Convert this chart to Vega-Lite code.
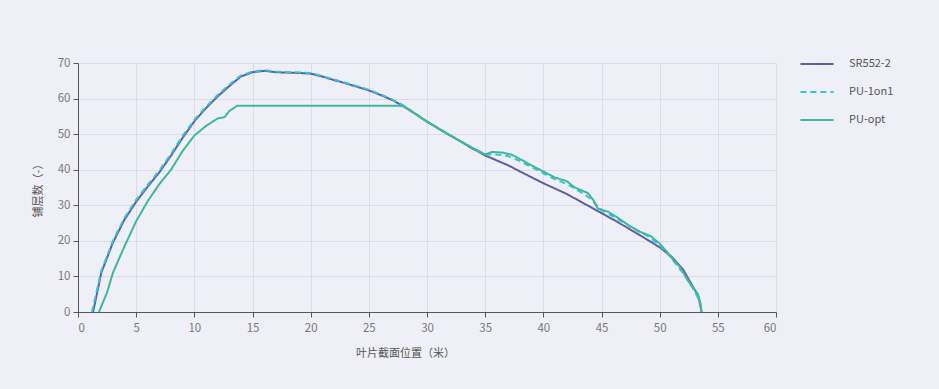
{
  "$schema": "https://vega.github.io/schema/vega-lite/v6.json",
  "autosize": {"type": "none"},
  "width": 698,
  "height": 249,
  "padding": {"left": 78, "top": 63, "right": 163, "bottom": 77},
  "background": "#efeff7",
  "config": {
    "view": {"stroke": null},
    "font": "Noto Sans CJK SC",
    "axis": {
      "gridColor": "#dcdce6",
      "gridWidth": 1,
      "domainColor": "#555555",
      "tickColor": "#555555",
      "labelColor": "#777777",
      "labelFont": "Noto Sans CJK SC",
      "labelFontSize": 11.5,
      "titleColor": "#555555",
      "titleFont": "Noto Sans CJK SC",
      "titleFontSize": 11,
      "titleFontWeight": "normal"
    }
  },
  "data": {
    "values": [
      {"series": "SR552-2", "x": 1.3, "y": 0},
      {"series": "SR552-2", "x": 2, "y": 11},
      {"series": "SR552-2", "x": 3, "y": 19.5},
      {"series": "SR552-2", "x": 4, "y": 26},
      {"series": "SR552-2", "x": 5, "y": 31},
      {"series": "SR552-2", "x": 6, "y": 35.3},
      {"series": "SR552-2", "x": 7, "y": 39.3},
      {"series": "SR552-2", "x": 8, "y": 44},
      {"series": "SR552-2", "x": 9, "y": 49},
      {"series": "SR552-2", "x": 10, "y": 53.6},
      {"series": "SR552-2", "x": 11, "y": 57.3},
      {"series": "SR552-2", "x": 12, "y": 60.6},
      {"series": "SR552-2", "x": 13, "y": 63.5},
      {"series": "SR552-2", "x": 14, "y": 66.2},
      {"series": "SR552-2", "x": 15, "y": 67.4},
      {"series": "SR552-2", "x": 16, "y": 67.8},
      {"series": "SR552-2", "x": 17, "y": 67.4},
      {"series": "SR552-2", "x": 18, "y": 67.3},
      {"series": "SR552-2", "x": 19, "y": 67.2},
      {"series": "SR552-2", "x": 20, "y": 67},
      {"series": "SR552-2", "x": 21, "y": 66.2},
      {"series": "SR552-2", "x": 22, "y": 65.2},
      {"series": "SR552-2", "x": 23, "y": 64.3},
      {"series": "SR552-2", "x": 24, "y": 63.3},
      {"series": "SR552-2", "x": 25, "y": 62.3},
      {"series": "SR552-2", "x": 26, "y": 61},
      {"series": "SR552-2", "x": 27, "y": 59.6},
      {"series": "SR552-2", "x": 28, "y": 57.8},
      {"series": "SR552-2", "x": 29, "y": 55.7},
      {"series": "SR552-2", "x": 30, "y": 53.5},
      {"series": "SR552-2", "x": 32, "y": 49.6},
      {"series": "SR552-2", "x": 34, "y": 45.8},
      {"series": "SR552-2", "x": 35, "y": 44},
      {"series": "SR552-2", "x": 36, "y": 42.6},
      {"series": "SR552-2", "x": 37, "y": 41.2},
      {"series": "SR552-2", "x": 38, "y": 39.5},
      {"series": "SR552-2", "x": 40, "y": 36.2},
      {"series": "SR552-2", "x": 42, "y": 33.2},
      {"series": "SR552-2", "x": 44, "y": 29.6},
      {"series": "SR552-2", "x": 45, "y": 27.8},
      {"series": "SR552-2", "x": 46, "y": 26},
      {"series": "SR552-2", "x": 48, "y": 22.2},
      {"series": "SR552-2", "x": 50, "y": 18.2},
      {"series": "SR552-2", "x": 51, "y": 15.6},
      {"series": "SR552-2", "x": 52, "y": 12},
      {"series": "SR552-2", "x": 53, "y": 6.3},
      {"series": "SR552-2", "x": 53.3, "y": 4.5},
      {"series": "SR552-2", "x": 53.5, "y": 2},
      {"series": "SR552-2", "x": 53.6, "y": 0},

      {"series": "PU-1on1", "x": 1.2, "y": 0},
      {"series": "PU-1on1", "x": 2, "y": 11.5},
      {"series": "PU-1on1", "x": 3, "y": 20},
      {"series": "PU-1on1", "x": 4, "y": 26.5},
      {"series": "PU-1on1", "x": 5, "y": 31.5},
      {"series": "PU-1on1", "x": 6, "y": 35.8},
      {"series": "PU-1on1", "x": 7, "y": 39.8},
      {"series": "PU-1on1", "x": 8, "y": 44.5},
      {"series": "PU-1on1", "x": 9, "y": 49.5},
      {"series": "PU-1on1", "x": 10, "y": 54},
      {"series": "PU-1on1", "x": 11, "y": 57.7},
      {"series": "PU-1on1", "x": 12, "y": 61},
      {"series": "PU-1on1", "x": 13, "y": 63.9},
      {"series": "PU-1on1", "x": 14, "y": 66.5},
      {"series": "PU-1on1", "x": 15, "y": 67.6},
      {"series": "PU-1on1", "x": 16, "y": 68},
      {"series": "PU-1on1", "x": 17, "y": 67.6},
      {"series": "PU-1on1", "x": 20, "y": 67.2},
      {"series": "PU-1on1", "x": 22, "y": 65.4},
      {"series": "PU-1on1", "x": 25, "y": 62.5},
      {"series": "PU-1on1", "x": 27, "y": 59.8},
      {"series": "PU-1on1", "x": 28, "y": 58},
      {"series": "PU-1on1", "x": 30, "y": 53.6},
      {"series": "PU-1on1", "x": 32, "y": 49.7},
      {"series": "PU-1on1", "x": 34, "y": 45.9},
      {"series": "PU-1on1", "x": 35, "y": 44.2},
      {"series": "PU-1on1", "x": 36, "y": 44.3},
      {"series": "PU-1on1", "x": 37, "y": 43.8},
      {"series": "PU-1on1", "x": 38, "y": 42.4},
      {"series": "PU-1on1", "x": 39, "y": 40.7},
      {"series": "PU-1on1", "x": 40, "y": 39},
      {"series": "PU-1on1", "x": 41, "y": 37.3},
      {"series": "PU-1on1", "x": 42, "y": 36},
      {"series": "PU-1on1", "x": 43, "y": 34.2},
      {"series": "PU-1on1", "x": 44, "y": 32},
      {"series": "PU-1on1", "x": 45, "y": 28.6},
      {"series": "PU-1on1", "x": 46, "y": 26.9},
      {"series": "PU-1on1", "x": 47, "y": 24.9},
      {"series": "PU-1on1", "x": 48, "y": 23},
      {"series": "PU-1on1", "x": 49, "y": 21.3},
      {"series": "PU-1on1", "x": 50, "y": 18.8},
      {"series": "PU-1on1", "x": 51, "y": 15.2},
      {"series": "PU-1on1", "x": 52, "y": 11},
      {"series": "PU-1on1", "x": 52.8, "y": 7},
      {"series": "PU-1on1", "x": 53.3, "y": 4},
      {"series": "PU-1on1", "x": 53.5, "y": 1.5},
      {"series": "PU-1on1", "x": 53.6, "y": 0},

      {"series": "PU-opt", "x": 1.8, "y": 0},
      {"series": "PU-opt", "x": 2.5, "y": 5.5},
      {"series": "PU-opt", "x": 3, "y": 11},
      {"series": "PU-opt", "x": 4, "y": 18.5},
      {"series": "PU-opt", "x": 5, "y": 25.5},
      {"series": "PU-opt", "x": 6, "y": 31.2},
      {"series": "PU-opt", "x": 7, "y": 36},
      {"series": "PU-opt", "x": 8, "y": 40},
      {"series": "PU-opt", "x": 9, "y": 45.3},
      {"series": "PU-opt", "x": 10, "y": 49.6},
      {"series": "PU-opt", "x": 11, "y": 52.3},
      {"series": "PU-opt", "x": 12, "y": 54.4},
      {"series": "PU-opt", "x": 12.6, "y": 54.8},
      {"series": "PU-opt", "x": 13, "y": 56.5},
      {"series": "PU-opt", "x": 13.7, "y": 58},
      {"series": "PU-opt", "x": 20, "y": 58},
      {"series": "PU-opt", "x": 27.6, "y": 58},
      {"series": "PU-opt", "x": 28, "y": 57.8},
      {"series": "PU-opt", "x": 29, "y": 55.7},
      {"series": "PU-opt", "x": 30, "y": 53.5},
      {"series": "PU-opt", "x": 32, "y": 49.6},
      {"series": "PU-opt", "x": 34, "y": 46},
      {"series": "PU-opt", "x": 35, "y": 44.3},
      {"series": "PU-opt", "x": 35.6, "y": 45},
      {"series": "PU-opt", "x": 36.5, "y": 44.8},
      {"series": "PU-opt", "x": 37.3, "y": 44.2},
      {"series": "PU-opt", "x": 38, "y": 43},
      {"series": "PU-opt", "x": 39, "y": 41.2},
      {"series": "PU-opt", "x": 40, "y": 39.5},
      {"series": "PU-opt", "x": 41, "y": 37.8},
      {"series": "PU-opt", "x": 42, "y": 36.8},
      {"series": "PU-opt", "x": 42.7, "y": 35},
      {"series": "PU-opt", "x": 43.8, "y": 33.5},
      {"series": "PU-opt", "x": 44.3, "y": 31.5},
      {"series": "PU-opt", "x": 44.7, "y": 29},
      {"series": "PU-opt", "x": 45.5, "y": 28.3},
      {"series": "PU-opt", "x": 46.5, "y": 26.3},
      {"series": "PU-opt", "x": 47.4, "y": 24.2},
      {"series": "PU-opt", "x": 48.3, "y": 22.6},
      {"series": "PU-opt", "x": 49.3, "y": 21.2},
      {"series": "PU-opt", "x": 50, "y": 19.2},
      {"series": "PU-opt", "x": 50.6, "y": 17},
      {"series": "PU-opt", "x": 51.2, "y": 14.5},
      {"series": "PU-opt", "x": 51.7, "y": 12.8},
      {"series": "PU-opt", "x": 52.5, "y": 8.5},
      {"series": "PU-opt", "x": 53.3, "y": 5},
      {"series": "PU-opt", "x": 53.5, "y": 2.5},
      {"series": "PU-opt", "x": 53.6, "y": 0}
    ]
  },
  "mark": {"type": "line", "strokeWidth": 2},
  "encoding": {
    "x": {
      "field": "x", "type": "quantitative",
      "scale": {"domain": [0, 60], "nice": false},
      "axis": {"values": [0,5,10,15,20,25,30,35,40,45,50,55,60], "title": "叶片截面位置（米）", "titleX": 327, "titleAlign": "center", "titlePadding": 14, "labelPadding": 5}
    },
    "y": {
      "field": "y", "type": "quantitative",
      "scale": {"domain": [0, 70], "nice": false},
      "axis": {"values": [0,10,20,30,40,50,60,70], "title": "铺层数（-）", "titlePadding": 14, "labelPadding": 3}
    },
    "color": {
      "field": "series", "type": "nominal",
      "sort": ["SR552-2", "PU-1on1", "PU-opt"],
      "scale": {"domain": ["SR552-2", "PU-1on1", "PU-opt"], "range": ["#5b5fa5", "#36c5d4", "#3fb89a"]},
      "legend": {
        "title": null,
        "orient": "none",
        "legendX": 721,
        "legendY": -17,
        "symbolType": "stroke",
        "symbolSize": 1100,
        "symbolStrokeWidth": 2,
        "labelFontSize": 11,
        "labelColor": "#555555",
        "labelFont": "Noto Sans CJK SC",
        "rowPadding": 5,
        "labelOffset": 14
      }
    },
    "strokeDash": {
      "field": "series", "type": "nominal",
      "sort": ["SR552-2", "PU-1on1", "PU-opt"],
      "scale": {"domain": ["SR552-2", "PU-1on1", "PU-opt"], "range": [[1, 0], [6, 4], [1, 0]]},
      "legend": null
    },
    "order": {"field": "x", "type": "quantitative"}
  }
}
